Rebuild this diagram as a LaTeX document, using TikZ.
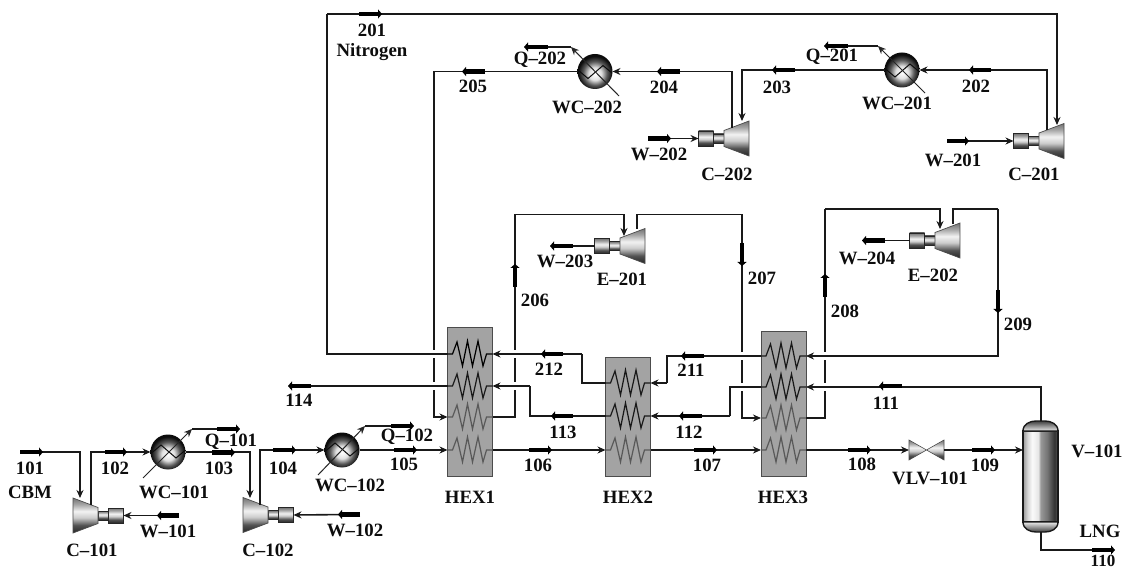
\documentclass[tikz,border=0pt]{standalone}
\usepackage{fontspec}
\setmainfont{Liberation Serif}[BoldFont={Liberation Serif Bold}]
\usetikzlibrary{arrows.meta}
\pgfdeclarehorizontalshading{vess}{100bp}{color(0bp)=(black!40);color(25bp)=(black!40);color(32bp)=(black!15);color(38bp)=(black!2);color(47bp)=(black!10);color(50bp)=(black!40);color(60bp)=(black!55);color(70bp)=(black!80);color(75bp)=(black!65);color(100bp)=(black!65)}
\pgfdeclareradialshading{wcball}{\pgfpoint{0bp}{-4bp}}{color(0bp)=(white);color(9bp)=(black!12);color(17bp)=(black!65);color(24bp)=(black!95);color(50bp)=(black)}
\pgfdeclareverticalshading{machine}{100bp}{color(0bp)=(black!85);color(25bp)=(black!85);color(36bp)=(black!68);color(47bp)=(black!20);color(56bp)=(black!5);color(66bp)=(black!35);color(75bp)=(black!55);color(100bp)=(black!55)}
\tikzset{
 pipe/.style={line width=1.6pt,color=black!90,line join=miter},
 flow/.style={pipe,-{Stealth[length=8pt,width=7pt]}},
 thru/.style={line width=1pt,color=black!85},
 thruarrow/.style={thru,-{Stealth[length=8pt,width=7pt]}},
 barflag/.style={line width=4.5pt,color=black,-{Triangle[length=4pt,width=9pt]}},
 lab/.style={font=\fontsize{18.8}{20}\selectfont\bfseries,inner sep=0pt,text=black!95},
 hexbox/.style={draw=black!70,line width=1pt,fill=black!36,inner sep=0pt},
 ballnode/.style={circle,minimum size=35pt,inner sep=0pt,outer sep=0pt,shade,shading=wcball},
 boxst/.style={draw=black!85,line width=.8pt,minimum width=15pt,minimum height=15pt,inner sep=0pt,outer sep=0pt,shade,shading=machine},
 trapst/.style={draw=black!70,line width=.7pt,shade,shading=machine},
 valvest/.style={draw=black!70,line width=.6pt,shade,shading=machine},
}
\newcommand{\flag}[4]{\draw[barflag] (#1,#2) -- (#3,#4);}
\newcommand{\gapat}[2]{\draw[white,line width=8pt] (#1-3,#2) -- (#1+3,#2);}
\newcommand{\coil}[4]{%
 \coordinate (#1L) at (#2,#3); \coordinate (#1R) at (#2+45,#3);
 \draw[line width=1.2pt,color=#4,line join=miter] (#2,#3) -- (#2+5,#3) -- (#2+9.5,#3-12) -- (#2+15,#3+12) -- (#2+20,#3-13) -- (#2+25,#3+12) -- (#2+30.5,#3-13) -- (#2+35.5,#3+12) -- (#2+39,#3) -- (#2+45,#3);}
\newcommand{\turb}[4]{%
 \draw[boxst,minimum width=0pt] (#2+#4*25,#3-4.5) rectangle (#2+#4*36,#3+4.5);
 \draw[trapst] (#2,#3-17.5) -- (#2+#4*25,#3-8) -- (#2+#4*25,#3+8) -- (#2,#3+17.5) -- cycle;
 \node[boxst] (#1box) at (#2+#4*43,#3) {};}
\newcommand{\zig}[3]{\draw[line width=1pt,color=black!95] (#2-17,#3+1.5*#1) -- (#2-7,#3-7*#1) -- (#2+8,#3+6*#1) -- (#2+17,#3-1.5*#1);}
\begin{document}
\begin{tikzpicture}[x=1pt,y=-1pt]
\fill[white] (0,0) rectangle (1125,569);
\useasboundingbox (0,0) rectangle (1125,569);
% free ends and corners
\coordinate (p101) at (21,452);
\coordinate (C101in) at (80,498);
\coordinate (C101out) at (91,505);
\coordinate (C102in) at (250,498);
\coordinate (C102out) at (260,505);
\coordinate (C201in) at (1057,125);
\coordinate (C201out) at (1047,130);
\coordinate (C202in) at (742,121);
\coordinate (C202out) at (732,128);
\coordinate (E201in) at (624,236);
\coordinate (E201out) at (637,229);
\coordinate (E202in) at (940,229);
\coordinate (E202out) at (953,224);
\coordinate (Nw) at (327,14);
\coordinate (k205) at (434,417);
\coordinate (k206) at (515,214.5);
\coordinate (k207) at (742,214.5);
\coordinate (k208) at (825,209);
\coordinate (k209) at (998,209);
\coordinate (k211) at (667,383);
\coordinate (k212) at (582,354);
\coordinate (k112) at (730,416);
\coordinate (k113) at (530,386);
\coordinate (p114) at (296,386);
\coordinate (p110) at (1100,550);
\coordinate (w101) at (170,515.5);
\coordinate (w102) at (350,514.5);
\coordinate (w201) at (960,141);
\coordinate (w202) at (660,138.5);
\coordinate (w203) at (565,246);
\coordinate (w204) at (878,240.5);
\coordinate (q101a) at (143,478); \coordinate (q101b) at (192,429); \coordinate (q101c) at (225,429);
\coordinate (q102a) at (318,475); \coordinate (q102b) at (365,426); \coordinate (q102c) at (400,426);
\coordinate (q201a) at (925,93); \coordinate (q201b) at (878,46); \coordinate (q201c) at (840,46);
\coordinate (q202a) at (619,96); \coordinate (q202b) at (571,47); \coordinate (q202c) at (540,47);
\coordinate (V101in) at (1023,450);
\coordinate (V101top) at (1041,421);
\coordinate (V101bot) at (1041,532);
\coordinate (VLVl) at (909,450);
\coordinate (VLVr) at (944,450);
% heat exchangers
\node[hexbox,minimum width=45pt,minimum height=148pt] (HEX1) at (470,402) {};
\node[hexbox,minimum width=45pt,minimum height=118pt] (HEX2) at (628,417) {};
\node[hexbox,minimum width=45pt,minimum height=144pt] (HEX3) at (783.5,404) {};
\coil{H1a}{447.5}{354}{black}
\coil{H1b}{447.5}{386}{black!90}
\coil{H1c}{447.5}{417}{black!65}
\coil{H1d}{447.5}{450}{black!65}
\coil{H2a}{605.5}{383}{black!90}
\coil{H2b}{605.5}{416}{black!90}
\coil{H2c}{605.5}{450}{black!65}
\coil{H3a}{761}{356}{black!90}
\coil{H3b}{761}{387}{black!90}
\coil{H3c}{761}{418}{black!65}
\coil{H3d}{761}{450}{black!65}
% coolers
\node[ballnode] (WC101) at (168,452) {};
\node[ballnode] (WC102) at (342,450) {};
\node[ballnode] (WC201) at (902,70) {};
\node[ballnode] (WC202) at (595,71.5) {};
\zig{1}{168}{452}
\zig{1}{342}{450}
\zig{-1}{902}{70}
\zig{-1}{595}{71.5}
% rotating machines
\turb{C101}{73}{515.5}{1}
\turb{C102}{243}{515}{1}
\turb{C201}{1064}{141}{-1}
\turb{C202}{749}{138.5}{-1}
\turb{E201}{645}{246}{-1}
\turb{E202}{960}{240.5}{-1}
% valve
\draw[valvest] (VLVl) -- (909,440) -- (944,460) -- (VLVr) -- (944,440) -- (909,460) -- cycle;
% vessel
\draw[line width=1.4pt,color=black!90,shade,shading=vess] (1023,431) rectangle (1058,522);
\draw[line width=1.4pt,color=black!90,top color=black!75,bottom color=black!8] (1023,431) .. controls (1023,424) and (1030,421) .. (1036,421) -- (1045,421) .. controls (1051,421) and (1058,424) .. (1058,431) -- cycle;
\draw[line width=1.4pt,color=black!90,top color=black!8,bottom color=black!75] (1023,522) .. controls (1023,529) and (1030,532) .. (1036,532) -- (1045,532) .. controls (1051,532) and (1058,529) .. (1058,522) -- cycle;
% long verticals that are interrupted at crossings
\draw[flow] (WC202.west) -| (k205) -- (H1cL);
\draw[pipe] (H1cR) -| (k206);
\draw[flow] (k206) -| (E201in);
\draw[flow] (E201out) |- (k207) |- (H3cL);
\draw[pipe] (H3cR) -| (k208);
\draw[flow] (k208) -| (E202in);
\gapat{434}{354}\gapat{434}{386}
\gapat{515}{354}\gapat{515}{386}
\gapat{742}{356}\gapat{742}{387}
\gapat{825}{356}\gapat{825}{387}
% streams
\draw[flow] (p101) -| (C101in);
\draw[flow] (C101out) |- (WC101.west);
\draw[flow] (WC101.east) -| (C102in);
\draw[flow] (C102out) |- (WC102.west);
\draw[flow] (WC102.east) -- (H1dL);
\draw[flow] (H1dR) -- (H2cL);
\draw[flow] (H2cR) -- (H3dL);
\draw[flow] (H3dR) -- (VLVl);
\draw[flow] (VLVr) -- (V101in);
\draw[pipe] (V101bot) |- (p110);
\draw[flow] (V101top) |- (H3bR);
\draw[pipe] (H3bL) -| (k112);
\draw[flow] (k112) -- (H2bR);
\draw[pipe] (H2bL) -| (k113);
\draw[flow] (k113) -- (H1bR);
\draw[pipe] (H1bL) -- (p114);
\draw[pipe] (E202out) |- (k209);
\draw[flow] (k209) |- (H3aR);
\draw[pipe] (H3aL) -| (k211);
\draw[flow] (k211) -- (H2aR);
\draw[pipe] (H2aL) -| (k212);
\draw[flow] (k212) -- (H1aR);
\draw[pipe] (H1aL) -| (Nw);
\draw[flow] (Nw) -| (C201in);
\draw[flow] (C201out) |- (WC201.east);
\draw[flow] (WC201.west) -| (C202in);
\draw[flow] (C202out) |- (WC202.east);
% work streams
\draw[flow] (w101) -- (C101box.east);
\draw[flow] (w102) -- (C102box.east);
\draw[flow] (w201) -- (C201box.west);
\draw[flow] (w202) -- (C202box.west);
\draw[pipe] (E201box.west) -- (w203);
\draw[pipe] (E202box.west) -- (w204);
% heat streams
\draw[thruarrow] (q101a) -- (q101b); \draw[pipe] (q101b) -- (q101c);
\draw[thruarrow] (q102a) -- (q102b); \draw[pipe] (q102b) -- (q102c);
\draw[thruarrow] (q201a) -- (q201b); \draw[pipe] (q201b) -- (q201c);
\draw[thruarrow] (q202a) -- (q202b); \draw[pipe] (q202b) -- (q202c);
% thick flow flags
\flag{20}{452}{43}{452}
\flag{105}{452}{127}{452}
\flag{212}{452.5}{235}{452.5}
\flag{273}{450}{296}{450}
\flag{394}{450}{417}{450}
\flag{217}{429}{240}{429}
\flag{391}{426}{414}{426}
\flag{179}{515.5}{157}{515.5}
\flag{360}{514.5}{338}{514.5}
\flag{311}{386}{288}{386}
\flag{529}{450}{552}{450}
\flag{694}{450}{717}{450}
\flag{848}{450}{871}{450}
\flag{972}{450}{995}{450}
\flag{1092}{550}{1115}{550}
\flag{563}{354}{541}{354}
\flag{573}{416}{551}{416}
\flag{702}{416}{679}{416}
\flag{704}{356}{681}{356}
\flag{902}{386}{879}{386}
\flag{359}{14}{382}{14}
\flag{485}{71.5}{462}{71.5}
\flag{680}{71.5}{657}{71.5}
\flag{795}{70}{772}{70}
\flag{991}{70}{969}{70}
\flag{548}{47}{524}{47}
\flag{848}{46}{824}{46}
\flag{648}{138.5}{671}{138.5}
\flag{947}{141}{969}{141}
\flag{573}{246}{550}{246}
\flag{885}{240.5}{862}{240.5}
\flag{515}{287}{515}{264}
\flag{742}{243}{742}{266}
\flag{825}{297}{825}{274}
\flag{998}{290}{998}{313}
% labels
\node[lab] (l101) at (30,468) {101};
\node[lab] (lcbm) at (30,492) {CBM};
\node[lab] (l102) at (115,468) {102};
\node[lab] (l103) at (219,468) {103};
\node[lab] (l104) at (283,468) {104};
\node[lab] (l105) at (404,464) {105};
\node[lab] (lq101) at (231,442) {Q–101};
\node[lab] (lq102) at (407,437) {Q–102};
\node[lab] (lwc101) at (174,492) {WC–101};
\node[lab] (lwc102) at (350,485) {WC–102};
\node[lab] (lw101) at (168,531) {W–101};
\node[lab] (lw102) at (355,530) {W–102};
\node[lab] (lc101) at (92,550) {C–101};
\node[lab] (lc102) at (268,550) {C–102};
\node[lab] (l114) at (299,400) {114};
\node[lab] (lh1) at (470,497) {HEX1};
\node[lab] (lh2) at (628,497) {HEX2};
\node[lab] (lh3) at (783,497) {HEX3};
\node[lab] (l212) at (549,369) {212};
\node[lab] (l113) at (563,432) {113};
\node[lab] (l106) at (538,465) {106};
\node[lab] (l112) at (689,432) {112};
\node[lab] (l211) at (691,370) {211};
\node[lab] (l107) at (707,465) {107};
\node[lab] (l108) at (862,464) {108};
\node[lab] (l111) at (886,403) {111};
\node[lab] (lvlv) at (930,478) {VLV–101};
\node[lab] (l109) at (985,465) {109};
\node[lab] (lv) at (1097,451) {V–101};
\node[lab] (llng) at (1100,531) {LNG};
\node[lab,font=\fontsize{17}{18}\selectfont\bfseries] (l110) at (1103,560.8) {110};
\node[lab] (l201) at (372,30) {201};
\node[lab] (lnit) at (372,52) {Nitrogen};
\node[lab] (l205) at (473,86) {205};
\node[lab] (lq202) at (540,60) {Q–202};
\node[lab] (l204) at (664,87) {204};
\node[lab] (lwc202) at (587,107) {WC–202};
\node[lab] (lw202) at (659,154) {W–202};
\node[lab] (lc202) at (727,174) {C–202};
\node[lab] (l203) at (777,87) {203};
\node[lab] (lq201) at (832,57) {Q–201};
\node[lab] (l202) at (976,86) {202};
\node[lab] (lwc201) at (897,103) {WC–201};
\node[lab] (lw201) at (953,160) {W–201};
\node[lab] (lc201) at (1034,174) {C–201};
\node[lab] (lw203) at (565,261) {W–203};
\node[lab] (le201) at (622,279) {E–201};
\node[lab] (l206) at (535,300) {206};
\node[lab] (l207) at (762,278) {207};
\node[lab] (l208) at (845,311) {208};
\node[lab] (l209) at (1018,324) {209};
\node[lab] (lw204) at (867,258) {W–204};
\node[lab] (le202) at (933,275) {E–202};
\end{tikzpicture}
\end{document}
